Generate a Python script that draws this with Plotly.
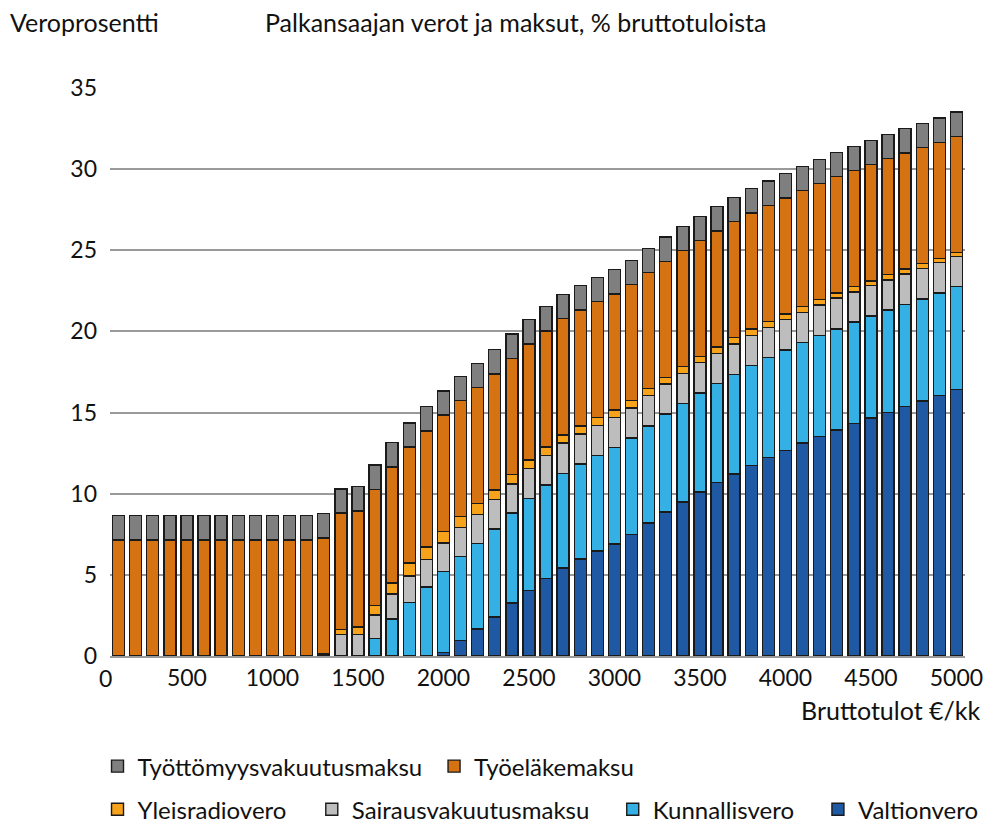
import plotly.graph_objects as go

income = [100 * i for i in range(1, 51)]

valtionvero = [0]*19 + [0.23, 0.97, 1.67, 2.40, 3.26, 4.05, 4.79, 5.43, 5.97, 6.46, 6.91,
                        7.47, 8.19, 8.87, 9.50, 10.11, 10.69, 11.22, 11.75, 12.22, 12.67,
                        13.12, 13.54, 13.92, 14.31, 14.66, 15.02, 15.36, 15.71, 16.06, 16.43]
kunnallisvero = [0]*15 + [1.07, 2.28, 3.31, 4.26, 4.99, 5.16, 5.28, 5.42, 5.54, 5.66, 5.74,
                          5.83, 5.86, 5.90, 5.92, 5.96, 5.98, 6.04, 6.07, 6.09, 6.11,
                          6.14, 6.14, 6.17, 6.19, 6.19, 6.20, 6.23, 6.26, 6.28, 6.29,
                          6.29, 6.29, 6.32, 6.33]
sairausvakuutusmaksu = [0]*12 + [0.12, 1.32, 1.32, 1.46, 1.55, 1.62, 1.70, 1.75, 1.77, 1.77,
                                 1.81, 1.81, 1.83, 1.83, 1.86, 1.85, 1.83, 1.85, 1.85, 1.87,
                                 1.85, 1.85, 1.87, 1.85, 1.86, 1.85, 1.87, 1.87, 1.87, 1.89,
                                 1.90, 1.87, 1.89, 1.87, 1.88, 1.87, 1.85, 1.85]
yleisradiovero = [0]*13 + [0.33, 0.47, 0.58, 0.67, 0.79, 0.75, 0.72, 0.68, 0.66, 0.59, 0.58,
                           0.53, 0.52, 0.51, 0.49, 0.49, 0.48, 0.45, 0.43, 0.41, 0.41,
                           0.38, 0.40, 0.39, 0.40, 0.35, 0.35, 0.35, 0.33, 0.33, 0.32,
                           0.29, 0.31, 0.31, 0.30, 0.28, 0.26]
tyoelakemaksu = [7.15]*50
tyottomyysvakuutusmaksu = [1.5]*50

x_ticks = list(range(500, 5001, 500))

# name, values, colour, legend id, legend x (paper), legend y (paper)
series = [
    ("Valtionvero", valtionvero, "#1F58A3", "legend6", 0.828, -0.231),
    ("Kunnallisvero", kunnallisvero, "#35B0E4", "legend5", 0.588, -0.231),
    ("Sairausvakuutusmaksu", sairausvakuutusmaksu, "#BDBDBD", "legend4", 0.236, -0.231),
    ("Yleisradiovero", yleisradiovero, "#F7A21B", "legend3", -0.0146, -0.231),
    ("Työeläkemaksu", tyoelakemaksu, "#D57211", "legend2", 0.379, -0.155),
    ("Työttömyysvakuutusmaksu", tyottomyysvakuutusmaksu, "#7F7F7F", "legend", -0.0146, -0.155),
]

FONT = "Lato"
fig = go.Figure()
legends = {}
for name, vals, col, lg, lx, ly in series:
    fig.add_trace(go.Bar(
        x=income, y=vals, name=name, legend=lg,
        marker=dict(color=col, line=dict(color="#1a1a1a", width=1.4)),
    ))
    legends[lg] = dict(orientation="h", x=lx, y=ly, xanchor="left", yanchor="top",
                       font=dict(size=24, color="#111111"), bgcolor="rgba(0,0,0,0)")

fig.update_layout(
    width=989, height=823,
    barmode="stack", bargap=0.3,
    plot_bgcolor="white", paper_bgcolor="white",
    margin=dict(l=110, r=24, t=88, b=167, autoexpand=False),
    font=dict(family=FONT, size=22, color="#111111"),
    showlegend=True,
    xaxis=dict(range=[50, 5050], tickvals=x_ticks,
               showgrid=False, ticks="", showline=True, linecolor="#9a9a9a", linewidth=2,
               tickfont=dict(size=23)),
    yaxis=dict(range=[0, 35], dtick=5, showgrid=True, gridcolor="#9a9a9a", gridwidth=1.5,
               ticks="", showline=False, zeroline=False, tickfont=dict(size=23),
               ticklabelstandoff=12),
    annotations=[
        dict(text="Veroprosentti", xref="paper", yref="paper", x=-0.119, y=1.116,
             xanchor="left", yanchor="middle", showarrow=False, font=dict(size=25)),
        dict(text="Palkansaajan verot ja maksut, % bruttotuloista", xref="paper", yref="paper",
             x=0.179, y=1.116, xanchor="left", yanchor="middle", showarrow=False,
             font=dict(size=25)),
        dict(text="Bruttotulot €/kk", xref="paper", yref="paper", x=1.021, y=-0.095,
             xanchor="right", yanchor="middle", showarrow=False, font=dict(size=25)),
        dict(text="0", xref="paper", yref="paper", x=-0.0047, y=0, xanchor="center",
             yanchor="top", yshift=-6, showarrow=False, font=dict(size=23)),
    ],
    **legends,
)

fig.write_html("out.html", config={"displayModeBar": False},
               post_script="document.body.style.margin='0px';")
